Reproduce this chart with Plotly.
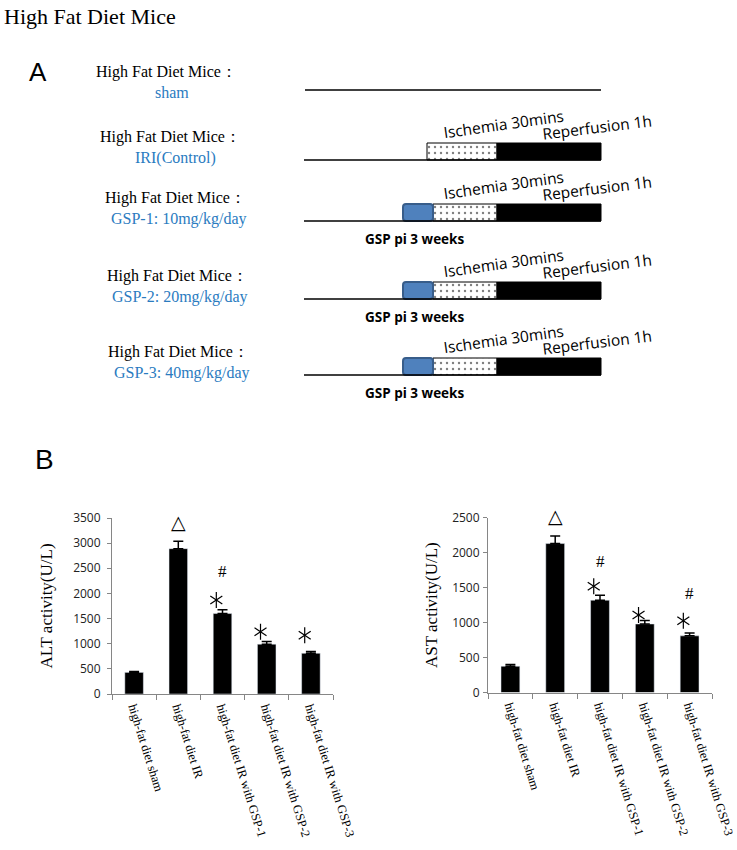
import plotly.graph_objects as go

# ---------------- data ----------------
categories = ["high-fat diet sham", "high-fat diet IR", "high-fat diet IR with GSP-1",
              "high-fat diet IR with GSP-2", "high-fat diet IR with GSP-3"]
cat_pos = list(range(len(categories)))
cat_bounds = [-0.5, 0.5, 1.5, 2.5, 3.5, 4.5]
alt_values = [430, 2890, 1600, 990, 810]
alt_errors = [15, 150, 75, 55, 35]
ast_values = [375, 2130, 1320, 980, 810]
ast_errors = [25, 110, 70, 50, 40]
alt_ticks = [0, 500, 1000, 1500, 2000, 2500, 3000, 3500]
ast_ticks = [0, 500, 1000, 1500, 2000, 2500]

# significance marks: (category index, value)
alt_tri_cat, alt_tri_y = [1], [3420]
alt_hash_cat, alt_hash_y = [2], [2430]
alt_star_cat, alt_star_y = [2, 3, 4], [1870, 1240, 1170]
ast_tri_cat, ast_tri_y = [1], [2520]
ast_hash_cat, ast_hash_y = [2, 4], [1870, 1420]
ast_star_cat, ast_star_y = [2, 3, 4], [1520, 1110, 1025]
STAR_OFFSET = -0.14

# schematic (panel A)
group_names = ["sham", "IRI(Control)", "GSP-1: 10mg/kg/day",
               "GSP-2: 20mg/kg/day", "GSP-3: 40mg/kg/day"]
row_base = [90, 160, 221, 299, 375]
has_ischemia = [False, True, True, True, True]
has_gsp = [False, False, True, True, True]
t_start = 304
t_gsp = 403
t_isch = 433
t_rep = 497
t_end = 601

BLACK_LABEL_X = [166, 170, 175, 177, 178]
BLUE_LABEL_X = [172, 175, 179, 180, 182]

FIG_W, FIG_H = 737, 850
ALT_DOM = [(FIG_H - 694) / FIG_H, (FIG_H - 518) / FIG_H]
AST_DOM = [(FIG_H - 692.5) / FIG_H, (FIG_H - 517.7) / FIG_H]
ALT_RANGE = [0, 3500]
AST_RANGE = [0, 2500]

fig = go.Figure()

# ---------------- panel A schematic on pixel-like axis x3/y3 ----------------
box_h = 17
for i, yb in enumerate(row_base):
    x0 = t_start + (1 if i == 0 else 0)
    fig.add_trace(go.Scatter(x=[x0, t_end], y=[yb, yb], mode="lines",
                             line=dict(color="black", width=1.6),
                             xaxis="x3", yaxis="y3", showlegend=False, hoverinfo="skip"))
    if has_ischemia[i]:
        s_isch = t_isch if has_gsp[i] else t_isch - 6
        fig.add_trace(go.Bar(orientation="h", y=[yb - box_h / 2], base=[s_isch],
                             x=[t_rep - s_isch], width=box_h,
                             marker=dict(color="white", line=dict(color="black", width=1),
                                         pattern=dict(shape=".", fgcolor="black", bgcolor="white",
                                                      size=6, solidity=0.12)),
                             xaxis="x3", yaxis="y3", showlegend=False, hoverinfo="skip"))
        fig.add_trace(go.Bar(orientation="h", y=[yb - box_h / 2], base=[t_rep],
                             x=[t_end - t_rep], width=box_h,
                             marker=dict(color="black", line=dict(color="black", width=1)),
                             xaxis="x3", yaxis="y3", showlegend=False, hoverinfo="skip"))
        fig.add_annotation(x=503, y=yb - 36, xref="x3", yref="y3", text="Ischemia 30mins",
                           showarrow=False, textangle=-8,
                           font=dict(family="Open Sans", size=15.5, color="black"))
        fig.add_annotation(x=597, y=yb - 33, xref="x3", yref="y3", text="Reperfusion 1h",
                           showarrow=False, textangle=-7,
                           font=dict(family="Open Sans", size=15.5, color="black"))
    if has_gsp[i]:
        fig.add_trace(go.Bar(orientation="h", y=[yb - box_h / 2], base=[t_gsp],
                             x=[t_isch - t_gsp], width=box_h,
                             marker=dict(color="#4F81BD", line=dict(color="#385D8A", width=2),
                                         cornerradius=3),
                             xaxis="x3", yaxis="y3", showlegend=False, hoverinfo="skip"))
        fig.add_annotation(x=414, y=yb + 18, xref="x3", yref="y3", text="<b>GSP pi 3 weeks</b>",
                           showarrow=False,
                           font=dict(family="Open Sans", size=13.5, color="black"))
    fig.add_annotation(x=BLACK_LABEL_X[i], y=yb - (18 if i == 0 else 23), xref="x3", yref="y3",
                       text="High Fat Diet Mice：", showarrow=False,
                       font=dict(family="Liberation Serif", size=16, color="black"))
    fig.add_annotation(x=BLUE_LABEL_X[i], y=yb + (2 if i == 0 else -2), xref="x3", yref="y3",
                       text=group_names[i], showarrow=False,
                       font=dict(family="Liberation Serif", size=16, color="#2A7BBF"))

# titles / panel letters
fig.add_annotation(x=2, y=16, xref="x3", yref="y3", text="High Fat Diet Mice", xanchor="left",
                   showarrow=False, font=dict(family="Liberation Serif", size=22, color="black"))
fig.add_annotation(x=38, y=72, xref="x3", yref="y3", text="A", showarrow=False,
                   font=dict(family="Liberation Sans", size=26, color="black"))
fig.add_annotation(x=44, y=459, xref="x3", yref="y3", text="B", showarrow=False,
                   font=dict(family="Liberation Sans", size=28, color="black"))


# ---------------- panel B bar charts ----------------
def add_chart(values, errors, tri_c, tri_y, hash_c, hash_y, star_c, star_y, xa, ya,
              yrange, ydom):
    px_per_unit = (ydom[1] - ydom[0]) * FIG_H / (yrange[1] - yrange[0])
    fig.add_trace(go.Bar(x=cat_pos, y=values, width=0.42,
                         marker=dict(color="black"),
                         error_y=dict(type="data", array=errors, arrayminus=[0] * len(values),
                                      color="black", thickness=1.5, width=5),
                         xaxis=xa, yaxis=ya, showlegend=False))
    sx = [c + STAR_OFFSET for c in star_c]
    for sym in ["y-up-open", "y-down-open"]:
        fig.add_trace(go.Scatter(x=sx, y=star_y, mode="markers", cliponaxis=False,
                                 marker=dict(symbol=sym, size=10, color="black",
                                             line=dict(width=1.2, color="black")),
                                 xaxis=xa, yaxis=ya, showlegend=False, hoverinfo="skip"))
    for c, yv in zip(tri_c, tri_y):
        y_in = min(yv, yrange[1])
        fig.add_annotation(x=c, y=y_in, yshift=(yv - y_in) * px_per_unit,
                           xref=xa, yref=ya, text="△", showarrow=False,
                           font=dict(family="DejaVu Sans", size=19, color="black"))
    for c, yv in zip(hash_c, hash_y):
        fig.add_annotation(x=c, y=yv, xref=xa, yref=ya, text="#", showarrow=False,
                           font=dict(family="Liberation Serif", size=17, color="black"))


add_chart(alt_values, alt_errors, alt_tri_cat, alt_tri_y, alt_hash_cat, alt_hash_y,
          alt_star_cat, alt_star_y, "x", "y", ALT_RANGE, ALT_DOM)
add_chart(ast_values, ast_errors, ast_tri_cat, ast_tri_y, ast_hash_cat, ast_hash_y,
          ast_star_cat, ast_star_y, "x2", "y2", AST_RANGE, AST_DOM)

axis_gray = "#868686"
xcommon = dict(showline=True, linecolor=axis_gray, linewidth=1, range=[-0.5, 4.5],
               tickmode="array", tickvals=cat_pos, ticktext=categories, ticks="",
               minor=dict(tickmode="array", tickvals=cat_bounds, ticks="outside", ticklen=5,
                          tickcolor=axis_gray, showgrid=False),
               tickangle=72.5, automargin=False, ticklabeloverflow="allow",
               tickfont=dict(family="Liberation Serif", size=12.5, color="black"),
               showgrid=False, zeroline=False, fixedrange=True)
ycommon = dict(showline=True, linecolor=axis_gray, linewidth=1, ticks="outside", ticklen=4,
               tickcolor=axis_gray, showgrid=False, zeroline=False, automargin=False,
               fixedrange=True,
               tickfont=dict(family="Open Sans", size=12, color="#222"))

fig.update_layout(
    width=FIG_W, height=FIG_H, autosize=False,
    margin=dict(l=0, r=0, t=0, b=0, pad=0),
    paper_bgcolor="white", plot_bgcolor="rgba(0,0,0,0)",
    barmode="overlay", showlegend=False,
    xaxis=dict(domain=[112 / FIG_W, 333 / FIG_W], anchor="y", **xcommon),
    yaxis=dict(domain=ALT_DOM, anchor="x", range=ALT_RANGE,
               tickvals=alt_ticks, ticklabelstandoff=4,
               title=dict(text="ALT activity(U/L)", standoff=16,
                          font=dict(family="Liberation Serif", size=17, color="black")),
               **ycommon),
    xaxis2=dict(domain=[488 / FIG_W, 712 / FIG_W], anchor="y2", **xcommon),
    yaxis2=dict(domain=AST_DOM, anchor="x2", range=AST_RANGE,
                tickvals=ast_ticks, ticklabelstandoff=1,
                title=dict(text="AST activity(U/L)", standoff=10,
                           font=dict(family="Liberation Serif", size=17, color="black")),
                **ycommon),
    xaxis3=dict(domain=[0, 1], anchor="y3", range=[0, FIG_W], visible=False, fixedrange=True,
                automargin=False),
    yaxis3=dict(domain=[0, 1], anchor="x3", range=[FIG_H, 0], visible=False, fixedrange=True,
                automargin=False),
)

fig.write_html("out.html", config={"displayModeBar": False},
               post_script="document.body.style.margin='0';document.body.style.overflow='hidden';")
